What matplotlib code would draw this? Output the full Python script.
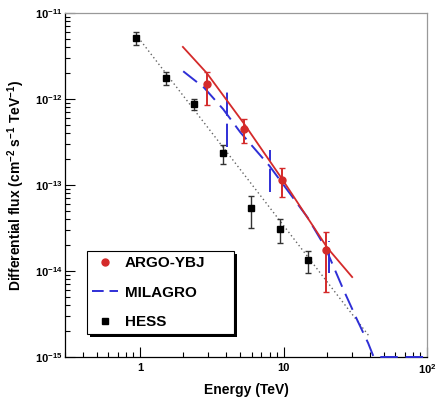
import numpy as np
import matplotlib
matplotlib.use('Agg')
import matplotlib.pyplot as plt
import matplotlib.patheffects as pe
from matplotlib.lines import Line2D

plt.rcParams['font.family'] = ['Liberation Sans', 'DejaVu Sans']
plt.rcParams['font.weight'] = 'bold'
plt.rcParams['mathtext.fontset'] = 'custom'
plt.rcParams['mathtext.rm'] = 'Liberation Sans:bold'
plt.rcParams['mathtext.bf'] = 'Liberation Sans:bold'
plt.rcParams['mathtext.default'] = 'bf'

# HESS points (TeV, cm-2 s-1 TeV-1)
hess_e = [0.94, 1.52, 2.37, 3.77, 5.9, 9.38, 14.7]
hess_f = [5.1e-12, 1.75e-12, 8.75e-13, 2.35e-13, 5.4e-14, 3.08e-14, 1.34e-14]
hess_lo = [4.25e-12, 1.46e-12, 7.45e-13, 1.75e-13, 3.16e-14, 2.12e-14, 9.5e-15]
hess_hi = [6.0e-12, 2.06e-12, 1.0e-12, 2.92e-13, 7.45e-14, 4.03e-14, 1.71e-14]
hess_fit_e = [0.97, 40.0]
hess_fit_f = [5.2e-12, 1.7e-15]

# ARGO-YBJ points
argo_e = [2.92, 5.27, 9.69, 19.9]
argo_f = [1.49e-12, 4.48e-13, 1.14e-13, 1.75e-14]
argo_lo = [8.5e-13, 3.08e-13, 7.2e-14, 5.7e-15]
argo_hi = [2.06e-12, 5.85e-13, 1.58e-13, 2.84e-14]
argo_fit_e = [1.99, 2.92, 5.27, 9.69, 20.2, 30.1]
argo_fit_f = [4.03e-12, 2.0e-12, 5.25e-13, 1.2e-13, 1.86e-14, 8.5e-15]

# MILAGRO fit and bars
mil_fit_e = [2.0, 2.8, 3.8, 5.0, 8.0, 14.7, 19.5, 26.0, 32.6, 38.9, 42.5, 55.0, 100.0]
mil_fit_f = [2.1e-12, 1.35e-12, 7.6e-13, 4.1e-13, 1.66e-13, 4.2e-14, 1.9e-14,
             6.2e-15, 2.7e-15, 1.45e-15, 1.0e-15, 2.5e-16, 1e-17]
mil_bar_e = [4.02, 8.0, 20.9]
mil_bar_lo = [2.77e-13, 8.3e-14, 9.5e-15]
mil_bar_hi = [1.27e-12, 2.55e-13, 2.23e-14]

red = '#d42a2a'
blue = '#2f2fd6'
ymin, ymax = 1e-15, 1e-11

fig = plt.figure(figsize=(4.37, 4.07), dpi=100)
ax = fig.add_axes([0.1487, 0.1229, 0.8284, 0.8452])

# HESS
ax.plot(hess_fit_e, hess_fit_f, color='#666666', lw=1.0, ls=(0, (1, 2)), zorder=2)
hf = np.array(hess_f)
ax.errorbar(hess_e, hess_f, yerr=[hf - np.array(hess_lo), np.array(hess_hi) - hf],
            fmt='s', color='black', ms=4, ecolor='#333333', elinewidth=1, capsize=2, zorder=3)

# MILAGRO
ax.plot(mil_fit_e, np.maximum(mil_fit_f, ymin), color=blue, lw=1.4, ls=(0, (9, 4)),
        clip_on=False, zorder=4)
ax.vlines(mil_bar_e, mil_bar_lo, mil_bar_hi, colors=blue, lw=1.4, linestyles=[(0, (12, 4))], zorder=4)

# ARGO-YBJ
ax.plot(argo_fit_e, argo_fit_f, color=red, lw=1.3, zorder=5)
af = np.array(argo_f)
ax.errorbar(argo_e, argo_f, yerr=[af - np.array(argo_lo), np.array(argo_hi) - af],
            fmt='o', color=red, ms=5, elinewidth=1.4, capsize=2.5, zorder=6)

ax.set_xscale('log')
ax.set_yscale('log')
ax.set_xlim(0.3, 100)
ax.set_ylim(ymin, ymax)

ax.set_xticks([1, 10, 100], ['1', '10', '$10^{2}$'])
ax.set_yticks([1e-15, 1e-14, 1e-13, 1e-12, 1e-11],
              ['$10^{-15}$', '$10^{-14}$', '$10^{-13}$', '$10^{-12}$', '$10^{-11}$'])
ax.xaxis.set_minor_locator(matplotlib.ticker.LogLocator(base=10, subs=np.arange(2, 10)))
ax.yaxis.set_minor_locator(matplotlib.ticker.LogLocator(base=10, subs=np.arange(2, 10)))
ax.xaxis.set_minor_formatter(matplotlib.ticker.NullFormatter())
ax.yaxis.set_minor_formatter(matplotlib.ticker.NullFormatter())
ax.tick_params(which='both', direction='in', top=False, right=False, width=0.8, labelsize=8)
ax.tick_params(which='major', length=7)
ax.tick_params(which='minor', length=3.5)
ax.tick_params(axis='x', pad=4)
ax.tick_params(axis='y', pad=1.5)

for s in ['top', 'right']:
    ax.spines[s].set_color('#999999')
for s in ['left', 'bottom']:
    ax.spines[s].set_color('black')
for s in ax.spines.values():
    s.set_linewidth(0.9)

ax.set_xlabel('Energy (TeV)', fontsize=10, fontweight='bold', labelpad=5)
ax.set_ylabel('Differential flux (cm$^{-2}$ s$^{-1}$ TeV$^{-1}$)', fontsize=10,
              fontweight='bold', labelpad=6)

handles = [Line2D([], [], marker='o', color=red, ls='none', ms=5),
           Line2D([], [], color=blue, lw=1.4, ls=(0, (6, 3))),
           Line2D([], [], marker='s', color='black', ls='none', ms=4)]
leg = ax.legend(handles, ['ARGO-YBJ', 'MILAGRO', 'HESS'], loc='upper left',
                bbox_to_anchor=(0.061, 0.067, 0.406, 0.241), mode='expand',
                borderaxespad=0, fontsize=11, fancybox=False, framealpha=1,
                edgecolor='black', borderpad=0.35, labelspacing=1.0,
                handlelength=1.65, handletextpad=0.48)
leg.get_frame().set_linewidth(0.8)
leg.get_frame().set_path_effects([
    pe.SimplePatchShadow(offset=(2.2, -2.2), shadow_rgbFace='black', alpha=1),
    pe.Normal()])
for t in leg.get_texts():
    t.set_fontweight('bold')

fig.savefig('out.png', dpi=100)
